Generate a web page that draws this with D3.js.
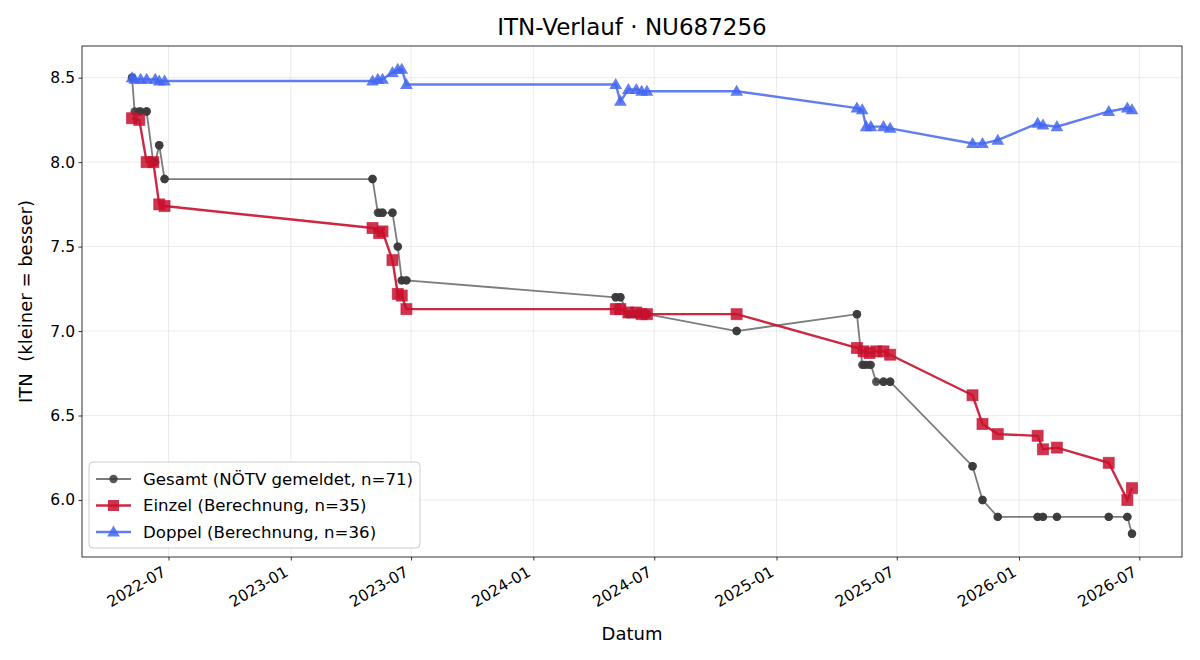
<!DOCTYPE html>
<html>
<head>
<meta charset="utf-8">
<script src="https://cdn.jsdelivr.net/npm/d3@7"></script>
<style>
  body { margin: 0; background: #fff; }
  svg, svg text { font-family: 'DejaVu Sans', 'Bitstream Vera Sans', Verdana, sans-serif !important; }
</style>
</head>
<body>
<svg id="chart" width="1200" height="660"></svg>
<script>
// Einzel (singles) calculation
const einzelDates = [
  '2022-05-07', '2022-05-18', '2022-05-29', '2022-06-08', '2022-06-17', '2022-06-25',
  '2023-05-04', '2023-05-14', '2023-05-19', '2023-06-03', '2023-06-11', '2023-06-17', '2023-06-24',
  '2024-05-04', '2024-05-11', '2024-05-23', '2024-06-04', '2024-06-12', '2024-06-20', '2024-11-02',
  '2025-05-02', '2025-05-12', '2025-05-21', '2025-05-31', '2025-06-11', '2025-06-21',
  '2025-10-23', '2025-11-07', '2025-11-30', '2026-01-29', '2026-02-06', '2026-02-27',
  '2026-05-16', '2026-06-13', '2026-06-20'
];
const einzelValues = [
  8.26, 8.25, 8.00, 8.00, 7.75, 7.74,
  7.61, 7.58, 7.59, 7.42, 7.22, 7.21, 7.13,
  7.13, 7.13, 7.11, 7.11, 7.10, 7.10, 7.10,
  6.90, 6.88, 6.87, 6.88, 6.88, 6.86,
  6.62, 6.45, 6.39, 6.38, 6.30, 6.31,
  6.22, 6.00, 6.07
];

// Doppel (doubles) calculation
const doppelDates = [
  '2022-05-07', '2022-05-11', '2022-05-20', '2022-05-29', '2022-06-11', '2022-06-17', '2022-06-25',
  '2023-05-04', '2023-05-12', '2023-05-19', '2023-06-03', '2023-06-11', '2023-06-17', '2023-06-24',
  '2024-05-04', '2024-05-11', '2024-05-23', '2024-06-04', '2024-06-12', '2024-06-20', '2024-11-02',
  '2025-05-02', '2025-05-10', '2025-05-16', '2025-05-23', '2025-06-11', '2025-06-21',
  '2025-10-23', '2025-11-07', '2025-11-30', '2026-01-29', '2026-02-06', '2026-02-27',
  '2026-05-16', '2026-06-13', '2026-06-20'
];
const doppelValues = [
  8.50, 8.49, 8.49, 8.49, 8.49, 8.48, 8.48,
  8.48, 8.49, 8.49, 8.53, 8.55, 8.55, 8.46,
  8.46, 8.36, 8.43, 8.43, 8.42, 8.42, 8.42,
  8.32, 8.31, 8.21, 8.21, 8.21, 8.20,
  8.11, 8.11, 8.13, 8.23, 8.22, 8.21,
  8.30, 8.32, 8.31
];

// Gesamt ITN reported by NÖTV, at the einzel and doppel match dates
const gesamtAtEinzel = [
  8.5, 8.3, 8.3, 8.0, 8.1, 7.9,
  7.9, 7.7, 7.7, 7.7, 7.5, 7.3, 7.3,
  7.2, 7.2, 7.1, 7.1, 7.1, 7.1, 7.0,
  7.1, 6.8, 6.8, 6.7, 6.7, 6.7,
  6.2, 6.0, 5.9, 5.9, 5.9, 5.9,
  5.9, 5.9, 5.8
];
const gesamtAtDoppel = [
  8.5, 8.3, 8.3, 8.3, 8.0, 8.1, 7.9,
  7.9, 7.7, 7.7, 7.7, 7.5, 7.3, 7.3,
  7.2, 7.2, 7.1, 7.1, 7.1, 7.1, 7.0,
  7.1, 6.8, 6.8, 6.8, 6.7, 6.7,
  6.2, 6.0, 5.9, 5.9, 5.9, 5.9,
  5.9, 5.9, 5.8
];

const yTicks = [6.0, 6.5, 7.0, 7.5, 8.0, 8.5];

const FONT = "'DejaVu Sans', 'Bitstream Vera Sans', Verdana, sans-serif";
const parse = d3.timeParse('%Y-%m-%d');
const einzel = einzelDates.map((d, i) => ({ date: parse(d), v: einzelValues[i] }));
const doppel = doppelDates.map((d, i) => ({ date: parse(d), v: doppelValues[i] }));
const gesamt = einzelDates.map((d, i) => ({ date: parse(d), v: gesamtAtEinzel[i] }))
  .concat(doppelDates.map((d, i) => ({ date: parse(d), v: gesamtAtDoppel[i] })))
  .sort((a, b) => a.date - b.date);

const svg = d3.select('#chart').attr('font-family', FONT);
const margin = { top: 46, right: 18, bottom: 103, left: 82 };
const width = 1200 - margin.left - margin.right;
const height = 660 - margin.top - margin.bottom;

const all = gesamt.concat(einzel, doppel);
const [tMin, tMax] = d3.extent(all, d => d.date);
const tPad = (tMax - tMin) * 0.05;
const [vMin, vMax] = d3.extent(all, d => d.v);
const vPad = (vMax - vMin) * 0.05;

const x = d3.scaleTime()
  .domain([new Date(+tMin - tPad), new Date(+tMax + tPad)])
  .range([0, width]);
const y = d3.scaleLinear()
  .domain([vMin - vPad, vMax + vPad])
  .range([height, 0]);

const g = svg.append('g').attr('transform', `translate(${margin.left},${margin.top})`);

// grid
const xTickVals = x.ticks(d3.timeMonth.every(6));
g.append('g').selectAll('line').data(xTickVals).join('line')
  .attr('x1', d => x(d)).attr('x2', d => x(d))
  .attr('y1', 0).attr('y2', height)
  .attr('stroke', '#b0b0b0').attr('stroke-opacity', 0.3).attr('stroke-width', 0.8);
g.append('g').selectAll('line').data(yTicks).join('line')
  .attr('x1', 0).attr('x2', width)
  .attr('y1', d => y(d)).attr('y2', d => y(d))
  .attr('stroke', '#b0b0b0').attr('stroke-opacity', 0.3).attr('stroke-width', 0.8);

// axes
const xAxis = g.append('g')
  .attr('transform', `translate(0,${height})`)
  .call(d3.axisBottom(x).tickValues(xTickVals).tickFormat(d3.timeFormat('%Y-%m')).tickSize(3.5).tickSizeOuter(0));
xAxis.selectAll('text')
  .style('font-size', '15.5px')
  .attr('fill', '#000')
  .attr('text-anchor', 'end')
  .attr('dy', null)
  .attr('y', 0)
  .attr('transform', 'translate(-2,18) rotate(-30)');

const yAxis = g.append('g')
  .call(d3.axisLeft(y).tickValues(yTicks).tickFormat(d3.format('.1f')).tickSize(3.5).tickSizeOuter(0));
yAxis.selectAll('text').style('font-size', '15.5px').attr('fill', '#000').attr('x', -7);

[xAxis, yAxis].forEach(a => {
  a.attr('font-family', FONT);
  a.select('.domain').remove();
  a.selectAll('.tick line').attr('stroke', '#000').attr('stroke-width', 0.8);
});

g.append('rect')
  .attr('width', width).attr('height', height)
  .attr('fill', 'none').attr('stroke', '#000').attr('stroke-width', 0.8);

const line = d3.line().x(d => x(d.date)).y(d => y(d.v));

// Gesamt
g.append('path').datum(gesamt)
  .attr('fill', 'none').attr('stroke', '#444').attr('stroke-opacity', 0.7)
  .attr('stroke-width', 1.8).attr('d', line);
g.append('g').selectAll('circle').data(gesamt).join('circle')
  .attr('cx', d => x(d.date)).attr('cy', d => y(d.v)).attr('r', 4.2)
  .attr('fill', '#3a3a3a').attr('fill-opacity', 0.85);

// Einzel
const red = '#c8102e';
g.append('path').datum(einzel)
  .attr('fill', 'none').attr('stroke', red).attr('stroke-opacity', 0.9)
  .attr('stroke-width', 2.4).attr('d', line);
g.append('g').selectAll('rect').data(einzel).join('rect')
  .attr('x', d => x(d.date) - 5.5).attr('y', d => y(d.v) - 5.5)
  .attr('width', 11).attr('height', 11)
  .attr('fill', red).attr('fill-opacity', 0.85)
  .attr('stroke', red).attr('stroke-opacity', 0.6).attr('stroke-width', 1);

// Doppel
const blue = '#4466ee';
const tri = d3.symbol().type(d3.symbolTriangle).size(70);
g.append('path').datum(doppel)
  .attr('fill', 'none').attr('stroke', blue).attr('stroke-opacity', 0.85)
  .attr('stroke-width', 2.4).attr('d', line);
g.append('g').selectAll('path').data(doppel).join('path')
  .attr('d', tri)
  .attr('transform', d => `translate(${x(d.date)},${y(d.v) + 0.8})`)
  .attr('fill', blue).attr('fill-opacity', 0.85);

// title and labels
svg.append('text')
  .attr('x', margin.left + width / 2).attr('y', 35)
  .attr('text-anchor', 'middle').style('font-size', '23px')
  .text('ITN-Verlauf · NU687256');
svg.append('text')
  .attr('x', margin.left + width / 2).attr('y', 640)
  .attr('text-anchor', 'middle').style('font-size', '18px')
  .text('Datum');
svg.append('text')
  .attr('transform', `translate(32,${margin.top + height / 2}) rotate(-90)`)
  .attr('text-anchor', 'middle').style('font-size', '18px')
  .style('white-space', 'pre')
  .text('ITN  (kleiner = besser)');

// legend
const legendItems = [
  { label: 'Gesamt (NÖTV gemeldet, n=71)', color: '#444', op: 0.7, mark: 'circle' },
  { label: 'Einzel (Berechnung, n=35)', color: red, op: 0.9, mark: 'square' },
  { label: 'Doppel (Berechnung, n=36)', color: blue, op: 0.85, mark: 'triangle' }
];
const lg = svg.append('g').attr('transform', `translate(${margin.left + 7},${margin.top + height - 95})`);
lg.append('rect')
  .attr('width', 331).attr('height', 86).attr('rx', 4)
  .attr('fill', '#fff').attr('fill-opacity', 0.8)
  .attr('stroke', '#ccc').attr('stroke-width', 1);
const rows = lg.selectAll('g.row').data(legendItems).join('g')
  .attr('transform', (d, i) => `translate(0,${17 + i * 26.5})`);
rows.append('line')
  .attr('x1', 7).attr('x2', 42)
  .attr('stroke', d => d.color).attr('stroke-opacity', d => d.op)
  .attr('stroke-width', d => d.mark === 'circle' ? 1.8 : 2.4);
rows.each(function (d) {
  const r = d3.select(this);
  if (d.mark === 'circle') {
    r.append('circle').attr('cx', 24.5).attr('r', 4.2).attr('fill', '#3a3a3a').attr('fill-opacity', 0.85);
  } else if (d.mark === 'square') {
    r.append('rect').attr('x', 19).attr('y', -5.5).attr('width', 11).attr('height', 11)
      .attr('fill', red).attr('fill-opacity', 0.85);
  } else {
    r.append('path').attr('d', tri).attr('transform', 'translate(24.5,0.8)')
      .attr('fill', blue).attr('fill-opacity', 0.85);
  }
});
rows.append('text')
  .attr('x', 54).attr('dy', '0.35em').style('font-size', '16.6px')
  .text(d => d.label);
</script>
</body>
</html>
